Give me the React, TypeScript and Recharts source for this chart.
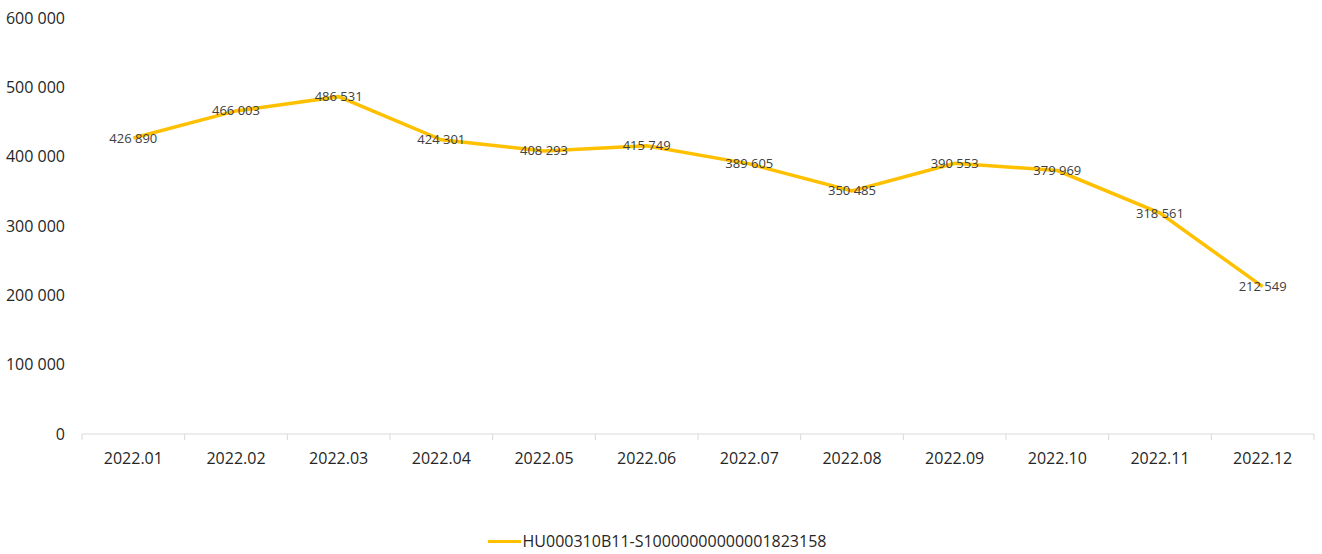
import React from 'react'
import { LineChart, Line, XAxis, YAxis, Legend, LabelList } from 'recharts'

const months = [
  '2022.01', '2022.02', '2022.03', '2022.04', '2022.05', '2022.06',
  '2022.07', '2022.08', '2022.09', '2022.10', '2022.11', '2022.12',
]
const values = [
  426890, 466003, 486531, 424301, 408293, 415749,
  389605, 350485, 390553, 379969, 318561, 212549,
]
const seriesName = 'HU000310B11-S10000000000001823158'
const yTicks = [0, 100000, 200000, 300000, 400000, 500000, 600000]
const boundaryTicks = [0, 1, 2, 3, 4, 5, 6, 7, 8, 9, 10, 11, 12]

const LINE = '#FFC000'
const AXIS = '#D9D9D9'
const FONT = '"Open Sans", sans-serif'

// "426890" -> "426 890"
function fmt(n: number) {
  return String(Math.round(n)).replace(/\B(?=(\d{3})+(?!\d))/g, ' ')
}

const data = months.map((m, i) => ({ month: m, value: values[i], slot: i + 0.5 }))

function ValueLabel(props: any) {
  const { x, y, value } = props
  return (
    <text
      x={x}
      y={y}
      dy={1}
      textAnchor="middle"
      dominantBaseline="middle"
      fontSize={13}
      fill="#404040"
      fontFamily={FONT}
    >
      {fmt(value)}
    </text>
  )
}

function LegendBox() {
  return (
    <div style={{ height: 26, display: 'flex', justifyContent: 'center', alignItems: 'center', fontFamily: FONT }}>
      <span style={{ display: 'inline-block', width: 33, height: 3, background: LINE, marginRight: 2 }} />
      <span style={{ fontSize: 16, color: '#262626' }}>{seriesName}</span>
    </div>
  )
}

export default function App() {
  return (
    <div style={{ position: 'absolute', left: 0, top: 0, width: 1322, height: 554, background: '#fff' }}>
      <LineChart
        width={1322}
        height={554}
        data={data}
        margin={{ top: 18, right: 8, bottom: 0, left: 0 }}
        style={{ fontFamily: FONT }}
      >
        {/* boundary tick marks between months, Excel style */}
        <XAxis
          xAxisId="a"
          dataKey="slot"
          type="number"
          domain={[0, 12]}
          ticks={boundaryTicks}
          allowDataOverflow
          tickFormatter={() => ''}
          height={1}
          tickSize={6}
          axisLine={{ stroke: AXIS, strokeWidth: 1 }}
          tickLine={{ stroke: AXIS, strokeWidth: 1 }}
        />
        <XAxis
          xAxisId="b"
          dataKey="month"
          scale="band"
          height={93}
          axisLine={false}
          tickLine={false}
          tickSize={0}
          tickMargin={18}
          interval={0}
          tick={{ fontSize: 16, fill: '#262626' }}
        />
        <YAxis
          domain={[0, 600000]}
          ticks={yTicks}
          width={82}
          axisLine={false}
          tickLine={false}
          tickSize={0}
          tickMargin={17}
          tickFormatter={fmt}
          tick={{ fontSize: 16, fill: '#262626' }}
        />
        <Legend verticalAlign="bottom" content={<LegendBox />} />
        <Line
          xAxisId="b"
          type="linear"
          dataKey="value"
          name={seriesName}
          stroke={LINE}
          strokeWidth={3.5}
          dot={false}
          isAnimationActive={false}
        >
          <LabelList dataKey="value" content={<ValueLabel />} />
        </Line>
      </LineChart>
    </div>
  )
}
